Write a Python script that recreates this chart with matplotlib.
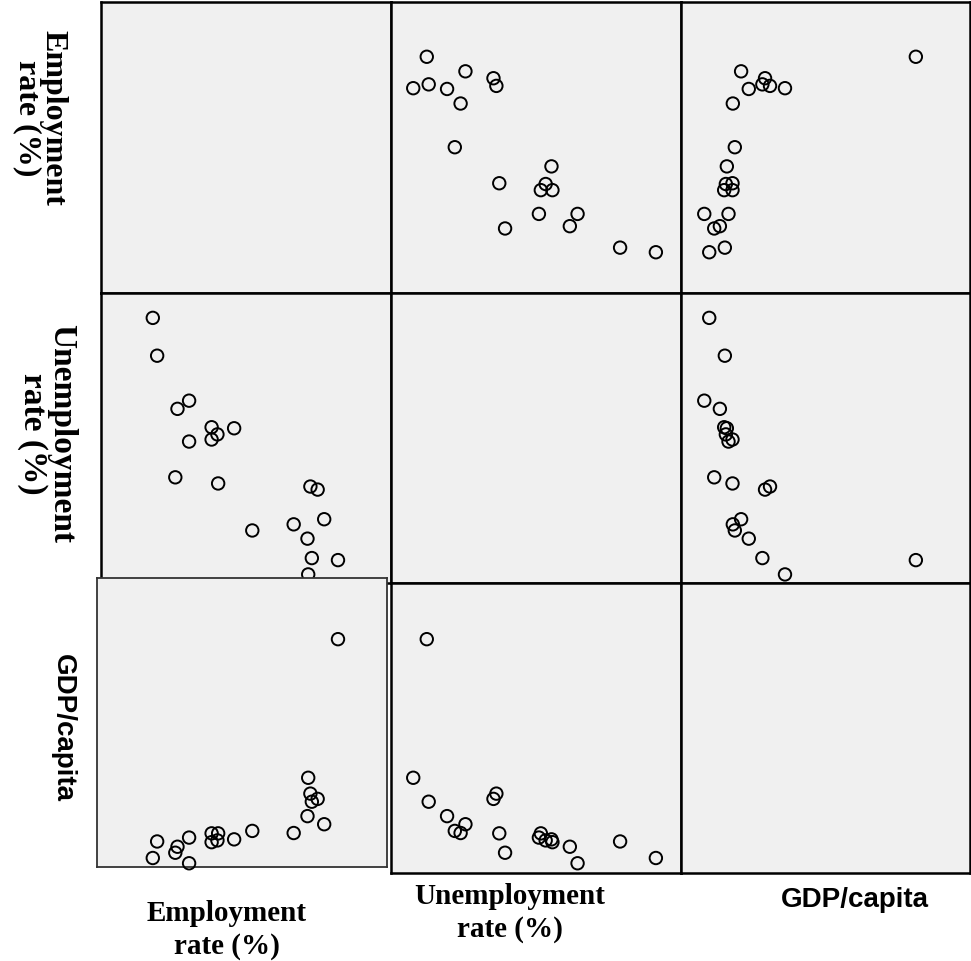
import matplotlib.pyplot as plt

# values (one entry per country)
employment = [77.7, 75.8, 74.9, 74.1, 73.9, 73.6, 73.5, 71.6, 65.9, 63.4,
              61.2, 61.1, 60.3, 60.3, 57.2, 57.2, 55.6, 55.3, 52.8, 52.2]
unemployment = [3.7, 7.7, 10.6, 3.9, 10.9, 2.3, 5.8, 7.2, 6.6, 16.6,
                11.2, 16.0, 15.5, 16.7, 15.3, 19.3, 18.5, 11.8, 23.7, 27.4]
gdp_capita = [81260, 20800, 29080, 28160, 30800, 35980, 23450, 17930, 18620, 15860,
              17820, 15520, 17820, 14940, 16440, 8050, 13450, 11490, 15170, 9770]

variables = [employment, unemployment, gdp_capita]
x_limits = [(45, 85), (0, 30), (0, 100000)]
row_labels = ["Employment\nrate (%)", "Unemployment\nrate (%)", "GDP/capita"]
col_labels = ["Employment\nrate (%)", "Unemployment\nrate (%)", "GDP/capita"]

W, H = 971, 962
col_edges = [100.5, 391, 681, 970]
row_edges = [3, 293.5, 584, 874]
panel_bg = "#f0f0f0"


def y_limits(lim):
    lo, hi = lim
    r = hi - lo
    return lo + 0.0487 * r, lo + 0.9961 * r


def px_axes(fig, x0, y0, x1, y1):
    return fig.add_axes([x0 / W, 1 - y1 / H, (x1 - x0) / W, (y1 - y0) / H])


def style(ax, color="black", lw=1.8, face=panel_bg):
    ax.set_facecolor(face)
    ax.set_xticks([])
    ax.set_yticks([])
    for sp in ax.spines.values():
        sp.set_color(color)
        sp.set_linewidth(lw)


fig = plt.figure(figsize=(W / 100, H / 100), dpi=100)

for i in range(3):
    for j in range(3):
        x0, x1 = col_edges[j], col_edges[j + 1]
        y0, y1 = row_edges[i], row_edges[i + 1]
        if i == 2 and j == 0:
            # this panel's frame sits a few pixels off the grid
            bg = px_axes(fig, 96.7, 578.7, 387.3, 868)
            style(bg, color="#333333", lw=1.3)
            ax = px_axes(fig, x0, y0, x1, y1)
            style(ax, face="none")
            for sp in ax.spines.values():
                sp.set_visible(False)
        else:
            ax = px_axes(fig, x0, y0, x1, y1)
            style(ax)
        ax.set_xlim(x_limits[j])
        ax.set_ylim(y_limits(x_limits[i]))
        if i != j:
            ax.scatter(variables[j], variables[i], s=80, facecolors="none",
                       edgecolors="black", linewidths=1.4, clip_on=False, zorder=3)

serif = dict(family="Liberation Serif", weight="bold")
sans = dict(family="Liberation Sans", weight="bold")

# row labels on the left, reading downwards
fig.text(40 / W, 1 - 118 / H, row_labels[0], rotation=-90, ha="center", va="center",
         fontsize=23, linespacing=0.88, multialignment="center", **serif)
fig.text(47 / W, 1 - 434 / H, row_labels[1], rotation=-90, ha="center", va="center",
         fontsize=24, linespacing=0.88, multialignment="center", **serif)
fig.text(63 / W, 1 - 728 / H, row_labels[2], rotation=-90, ha="center", va="center",
         fontsize=20, **sans)

# column labels below
fig.text(227 / W, 1 - 930 / H, col_labels[0], ha="center", va="center",
         fontsize=21, linespacing=1.25, multialignment="center", **serif)
fig.text(510 / W, 1 - 913 / H, col_labels[1], ha="center", va="center",
         fontsize=21, linespacing=1.25, multialignment="center", **serif)
fig.text(855 / W, 1 - 900 / H, col_labels[2], ha="center", va="center",
         fontsize=20, **sans)

fig.savefig("out.png", dpi=100)
